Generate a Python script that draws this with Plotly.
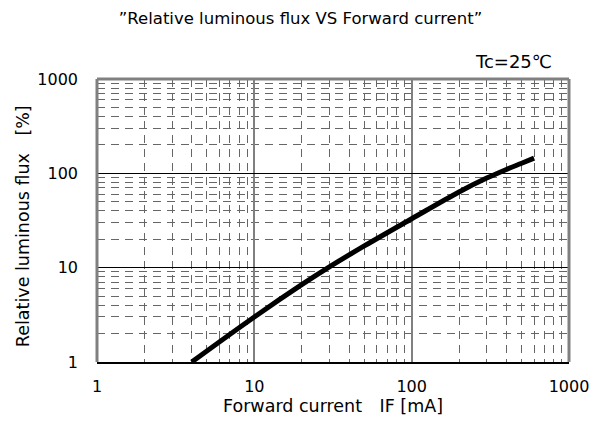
import plotly.graph_objects as go

# forward current [mA] vs relative luminous flux [%]
current_ma = [4.0, 10, 20, 30, 50, 100, 200, 300, 400, 500, 600]
rel_flux = [1.0, 3.0, 6.6, 10.2, 17, 33, 63.5, 89, 110, 128, 145]

x_ticks = [1, 10, 100, 1000]
y_ticks = [1, 10, 100, 1000]

FONT = "DejaVu Sans, Noto Sans CJK JP"

fig = go.Figure(data=[
    go.Scatter(x=current_ma, y=rel_flux, mode="lines",
               line=dict(color="black", width=5, shape="spline"),
               showlegend=False)
])

fig.update_layout(
    width=601, height=435,
    margin=dict(l=97, r=29, t=79, b=73),
    paper_bgcolor="white", plot_bgcolor="white",
    font=dict(family=FONT, size=16, color="black"),
    title=dict(text="\u201dRelative luminous flux VS Forward current\u201d",
               x=0.5, xanchor="center", y=0.958, yanchor="middle",
               font=dict(size=16.5)),
    xaxis=dict(
        type="log", range=[0, 3],
        tickvals=x_ticks, ticktext=[str(v) for v in x_ticks],
        showgrid=True, gridcolor="#808080", gridwidth=1.5,
        showline=True, linecolor="black", linewidth=2,
        ticks="", ticklabelstandoff=9,
        minor=dict(showgrid=True, gridcolor="#666666", gridwidth=1,
                   griddash="8px,6px", dtick="D1"),
        zeroline=False,
    ),
    yaxis=dict(
        type="log", range=[0, 3],
        tickvals=y_ticks, ticktext=[str(v) for v in y_ticks],
        showgrid=True, gridcolor="black", gridwidth=1,
        showline=False,
        ticks="", ticklabelstandoff=18,
        minor=dict(showgrid=True, gridcolor="#666666", gridwidth=1,
                   griddash="8px,6px", dtick="D1"),
        zeroline=False,
    ),
    shapes=[
        dict(type="line", xref="paper", yref="paper", x0=0, x1=1, y0=1, y1=1,
             line=dict(color="#808080", width=3)),
        dict(type="line", xref="paper", yref="paper", x0=0, x1=0, y0=0, y1=1,
             line=dict(color="#808080", width=3)),
        dict(type="line", xref="paper", yref="paper", x0=1, x1=1, y0=0, y1=1,
             line=dict(color="#808080", width=3)),
    ],
    annotations=[
        dict(text="Tc=25\u2103", xref="paper", yref="paper", x=1, y=1,
             xanchor="right", yanchor="bottom", xshift=-15, yshift=5,
             showarrow=False, font=dict(size=18)),
        dict(text="Forward current\u3000IF [mA]", xref="paper", yref="paper",
             x=0.5, y=0, xanchor="center", yanchor="middle", yshift=-44,
             showarrow=False, font=dict(size=17.5)),
        dict(text="Relative luminous flux\u3000[%]", xref="paper", yref="paper",
             x=0, y=0.48, xanchor="center", yanchor="middle", xshift=-74,
             textangle=-90, showarrow=False, font=dict(size=17.5)),
    ],
)

fig.write_html("out.html", config=dict(displayModeBar=False),
               post_script="document.body.style.margin='0';")
